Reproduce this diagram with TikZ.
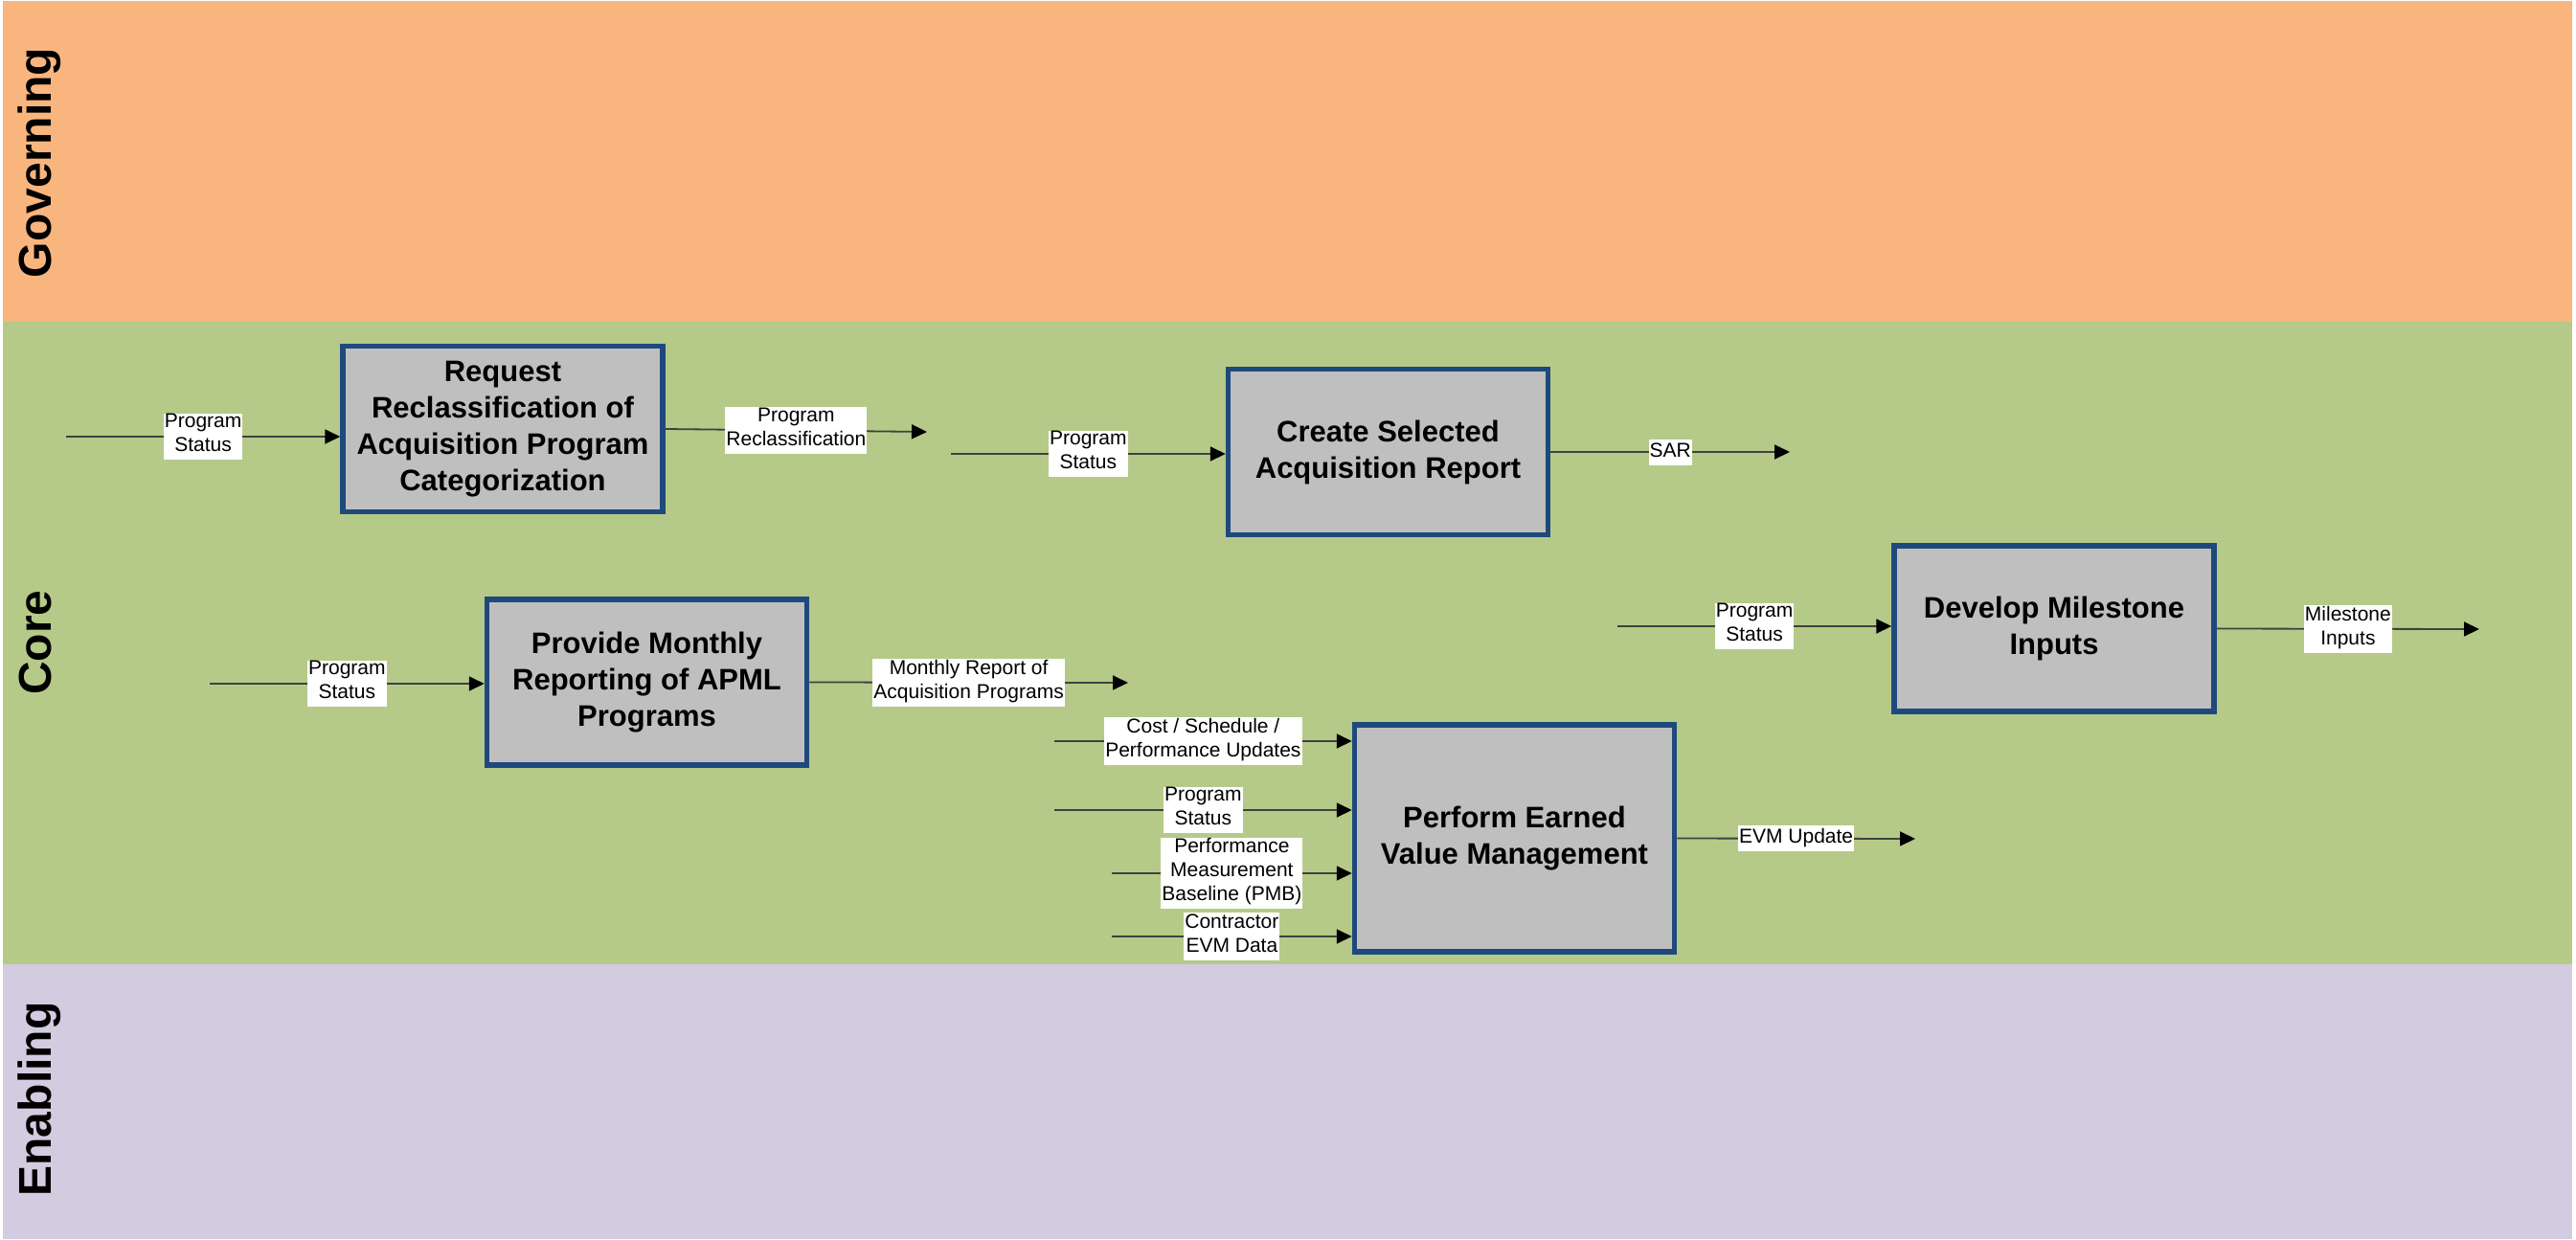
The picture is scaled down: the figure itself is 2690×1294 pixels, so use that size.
\documentclass[tikz,border=0pt]{standalone}
\usepackage{fontspec}
\setmainfont{Liberation Sans}
\usetikzlibrary{arrows.meta}
\definecolor{laneorange}{HTML}{F9B57E}
\definecolor{lanegreen}{HTML}{B5CA88}
\definecolor{lanepurple}{HTML}{D3CBE0}
\definecolor{boxblue}{HTML}{1F497D}
\definecolor{boxgrey}{HTML}{BFBFBF}
\begin{document}
\begin{tikzpicture}[x=1pt,y=-1pt,
  proc/.style={draw=boxblue, line width=5.5pt, fill=boxgrey, minimum width=334pt, minimum height=173pt,
    align=center, font=\fontsize{31}{38}\selectfont\bfseries, inner sep=0pt},
  lbl/.style={fill=white, align=center, font=\fontsize{21}{25}\selectfont, inner xsep=1pt, inner ysep=1pt,
    execute at begin node=\strut, execute at end node=\strut},
  conn/.style={draw=black!75, line width=1.8pt, -{Triangle[length=16pt,width=15pt,fill=black,color=black]}},
  lanelabel/.style={font=\fontsize{48}{58}\selectfont\bfseries, rotate=90, anchor=base}]
\useasboundingbox (0,0) rectangle (2690,1294);
\fill[white] (0,0) rectangle (2690,1294);
% lanes
\fill[laneorange] (3,1) rectangle (2686,336);
\fill[lanegreen] (3,336) rectangle (2686,1007);
\fill[lanepurple] (3,1007) rectangle (2686,1294);
\node[lanelabel] (lg) at (53,170) {Governing};
\node[lanelabel] (lc) at (53,671) {Core};
\node[lanelabel] (le) at (53,1148) {Enabling};
% process boxes
\node[proc] (b1) at (525,448) {Request\\Reclassification of\\Acquisition Program\\Categorization};
\node[proc] (b2) at (1449.5,472) {Create Selected\\Acquisition Report};
\node[proc] (b3) at (675.5,712.5) {Provide Monthly\\Reporting of APML\\Programs};
\node[proc, minimum height=237pt] (b4) at (1581.5,875.5) {Perform Earned\\Value Management};
\node[proc] (b5) at (2145,656.5) {Develop Milestone\\Inputs};
% free ends
\coordinate (i1) at (69,456);
\coordinate (o1) at (968,451);
\coordinate (i2) at (993,474);
\coordinate (o2) at (1869,472);
\coordinate (i3) at (219,714);
\coordinate (o3) at (1178,713);
\coordinate (c1) at (1101,774);
\coordinate (c2) at (1101,846);
\coordinate (c3) at (1161,912);
\coordinate (c4) at (1161,978);
\coordinate (o4) at (2000,876);
\coordinate (i5) at (1689,654);
\coordinate (o5) at (2589,657);
% connectors
\draw[conn] (i1) -- (i1 -| b1.west) node[lbl, midway] (l1) {Program\\Status};
\draw[conn] (b1.east) -- (o1) node[lbl, midway] (l2) {Program\\Reclassification};
\draw[conn] (i2) -- (i2 -| b2.west) node[lbl, midway] (l3) {Program\\Status};
\draw[conn] (b2.east) -- (o2) node[lbl, midway] (l4) {SAR};
\draw[conn] (i3) -- (i3 -| b3.west) node[lbl, midway] (l5) {Program\\Status};
\draw[conn] (b3.east) -- (o3) node[lbl, midway] (l6) {Monthly Report of\\Acquisition Programs};
\draw[conn] (c1) -- (c1 -| b4.west) node[lbl, midway] (l7) {Cost / Schedule /\\Performance Updates};
\draw[conn] (c2) -- (c2 -| b4.west) node[lbl, midway] (l8) {Program\\Status};
\draw[conn] (c3) -- (c3 -| b4.west) node[lbl, midway] (l9) {Performance\\Measurement\\Baseline (PMB)};
\draw[conn] (c4) -- (c4 -| b4.west) node[lbl, midway] (l10) {Contractor\\EVM Data};
\draw[conn] (b4.east) -- (o4) node[lbl, midway] (l11) {EVM Update};
\draw[conn] (i5) -- (i5 -| b5.west) node[lbl, midway] (l12) {Program\\Status};
\draw[conn] (b5.east) -- (o5) node[lbl, midway] (l13) {Milestone\\Inputs};
\end{tikzpicture}
\end{document}
